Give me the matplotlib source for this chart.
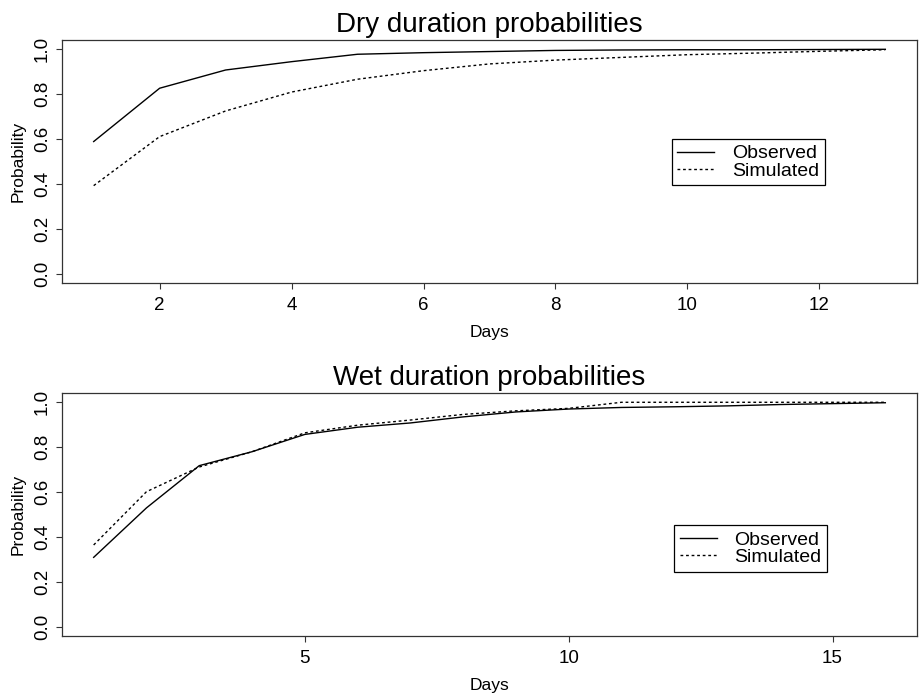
import matplotlib
matplotlib.use("Agg")
import matplotlib.pyplot as plt
import numpy as np

plt.rcParams['font.family'] = ['Liberation Sans', 'DejaVu Sans']

# ---- data ----
dry_days = [1, 2, 3, 4, 5, 6, 7, 8, 9, 10, 11, 12, 13]
dry_observed = [0.59, 0.827, 0.908, 0.945, 0.978, 0.985, 0.990, 0.995, 0.997, 0.998, 0.998, 0.999, 1.0]
dry_simulated = [0.394, 0.612, 0.726, 0.810, 0.867, 0.905, 0.935, 0.952, 0.964, 0.976, 0.983, 0.991, 0.998]

wet_days = [1, 2, 3, 4, 5, 6, 7, 8, 9, 10, 11, 12, 13, 14, 15, 16]
wet_observed = [0.31, 0.53, 0.718, 0.78, 0.857, 0.889, 0.908, 0.935, 0.957, 0.970,
                0.977, 0.980, 0.984, 0.990, 0.994, 0.998]
wet_simulated = [0.365, 0.602, 0.712, 0.78, 0.864, 0.898, 0.921, 0.946, 0.962, 0.973,
                 1.0, 1.0, 1.0, 1.0, 1.0, 1.0]

titles = ["Dry duration probabilities", "Wet duration probabilities"]
xlabel = "Days"
ylabel = "Probability"
legend_labels = ["Observed", "Simulated"]
dry_xticks = [2, 4, 6, 8, 10, 12]
wet_xticks = [5, 10, 15]
yticks = [0.0, 0.2, 0.4, 0.6, 0.8, 1.0]

W, H = 921, 698
fig = plt.figure(figsize=(W / 100, H / 100), dpi=100)

def px_axes(left, top, right, bottom):
    return fig.add_axes([left / W, 1 - bottom / H, (right - left) / W, (bottom - top) / H])

ax1 = px_axes(62, 40.3, 917, 283.3)
ax2 = px_axes(62, 393.3, 917, 636)

dotted = (0, (2, 2))
panels = [
    (ax1, dry_days, dry_observed, dry_simulated, dry_xticks, titles[0], (0.713, 0.594)),
    (ax2, wet_days, wet_observed, wet_simulated, wet_xticks, titles[1], (0.716, 0.456)),
]

for ax, days, obs, sim, xt, title, legpos in panels:
    ax.plot(days, obs, color='black', lw=1.0, ls='-', label=legend_labels[0])
    ax.plot(days, sim, color='black', lw=1.0, ls=dotted, label=legend_labels[1])
    rng = days[-1] - days[0]
    ax.set_xlim(days[0] - 0.04 * rng, days[-1] + 0.04 * rng)
    ax.set_ylim(-0.04, 1.04)
    ax.set_xticks(xt)
    ax.set_xticklabels([str(v) for v in xt])
    ax.set_yticks(yticks)
    ax.set_yticklabels([f"{v:.1f}" for v in yticks], rotation=90, va='center')
    ax.tick_params(axis='both', direction='out', length=4, width=0.8, color='#333333',
                   labelsize=13.5)
    ax.tick_params(axis='x', pad=6)
    ax.tick_params(axis='y', pad=4)
    for s in ax.spines.values():
        s.set_color('#333333')
        s.set_linewidth(0.9)
    ax.set_title(title, fontsize=20, pad=6)
    ax.set_xlabel(xlabel, fontsize=12.5, labelpad=8)
    ax.set_ylabel(ylabel, fontsize=12.5, labelpad=6)
    leg = ax.legend(loc='upper left', bbox_to_anchor=legpos, borderaxespad=0,
                    fontsize=14, handlelength=1.9, handletextpad=0.9, borderpad=0.3,
                    labelspacing=-0.02, fancybox=False, framealpha=1,
                    edgecolor='black')
    leg.get_frame().set_linewidth(0.9)

fig.savefig("out.png", dpi=100)
